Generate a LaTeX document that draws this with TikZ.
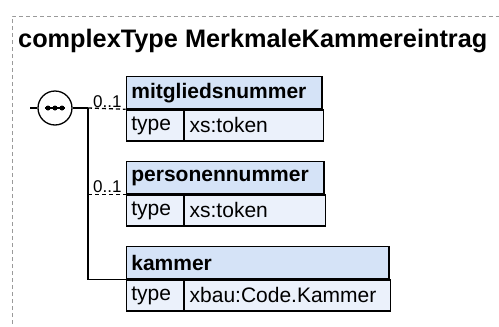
\documentclass[tikz,border=0pt]{standalone}
\usepackage{fontspec}
\setmainfont{Liberation Sans}
\usetikzlibrary{positioning}
\definecolor{hdrblue}{HTML}{D5E3F7}
\definecolor{rowblue}{HTML}{EBF1FB}
\definecolor{framegray}{HTML}{9A9A9A}
\tikzset{
	hdr/.style={draw, fill=hdrblue, line width=1.3pt, anchor=north west, minimum height=32pt, inner xsep=5pt, inner ysep=0pt, align=left, font=\fontsize{21}{24}\selectfont\bfseries},
	cell/.style={draw, fill=rowblue, line width=1.3pt, anchor=north west, minimum height=31pt, inner xsep=5pt, inner ysep=0pt, align=left, font=\fontsize{21}{24}\selectfont},
	card/.style={anchor=south east, inner sep=0pt, font=\fontsize{17}{20}\selectfont},
	link/.style={line width=1.3pt},
	opt/.style={line width=1.3pt, dash pattern=on 4pt off 3pt}
}
\begin{document}
\begin{tikzpicture}[x=1pt,y=-1pt]
		\useasboundingbox (0,0) rectangle (499,327);
		\draw[framegray, line width=1pt, dash pattern=on 4pt off 3pt] (12.5,345) -- (12.5,16) -- (520,16);
		\node[anchor=base west, inner sep=0pt, font=\fontsize{25.3}{30}\selectfont\bfseries] (title) at (18,47) {complexType MerkmaleKammereintrag};
		% sequence
		\coordinate (src) at (30,108);
		\coordinate (j) at (88,108);
		\node[draw, circle, fill=white, line width=1.3pt, minimum size=34pt, inner sep=0pt] (seq) at (55,108) {};
		\draw[link] ([xshift=-10pt]seq.center) -- ([xshift=10pt]seq.center);
		\foreach \dx in {-7,0,7}
			\fill ([xshift=\dx pt]seq.center) circle (2.5pt);
		% elements
		\node[hdr, text width=185.5pt] (mh) at (125.7,76) {mitgliedsnummer};
		\node[cell, text width=47pt] (mt) at (mh.south west) {type};
		\node[cell, text width=128.5pt] (mv) at (mt.north east) {xs:token};
		\node[hdr, text width=187.5pt] (ph) at (125.7,161) {personennummer};
		\node[cell, text width=47pt] (pt) at (ph.south west) {type};
		\node[cell, text width=130.5pt] (pv) at (pt.north east) {xs:token};
		\node[hdr, text width=252.5pt] (kh) at (125.7,246) {kammer};
		\node[cell, text width=47pt] (kt) at (kh.south west) {type};
		\node[cell, text width=195.5pt] (kv) at (kt.north east) {xbau:Code.Kammer};
		% connectors
		\draw[link] (src) -- (seq);
		\draw[link] (seq) -- (j);
		\draw[link] (j) |- (kh.south west);
		\draw[opt] (j) -- (mh.south west);
		\draw[opt] (j |- ph.south west) -- (ph.south west);
		\node[card] (c1) at ([xshift=-4pt,yshift=1.5pt]mh.south west) {0..1};
		\node[card] (c2) at ([xshift=-4pt,yshift=1.5pt]ph.south west) {0..1};
\end{tikzpicture}
\end{document}
